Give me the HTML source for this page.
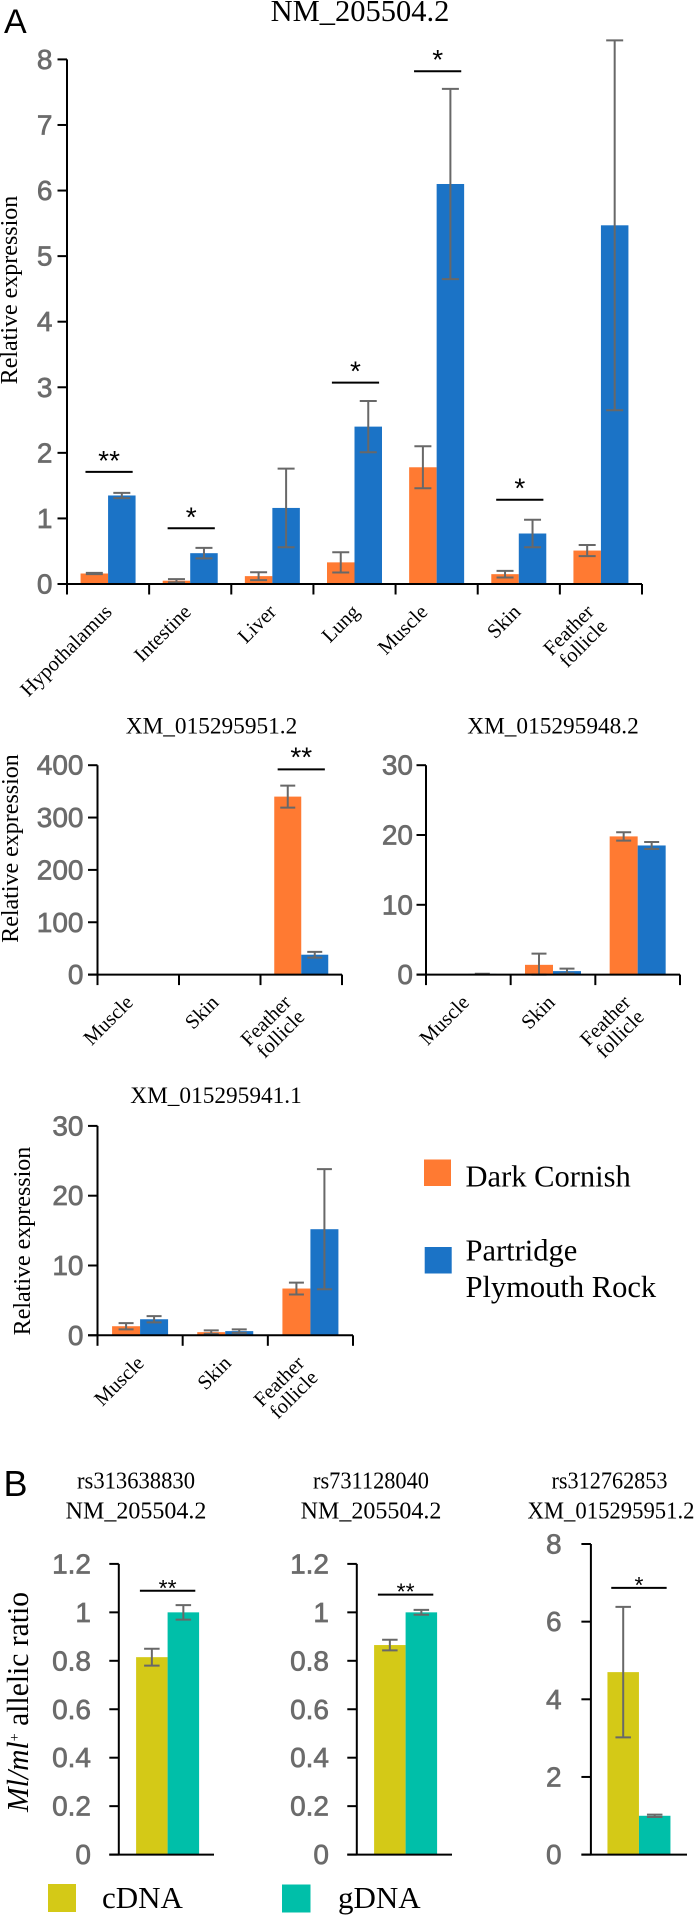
<!DOCTYPE html>
<html lang="en">
<head>
<meta charset="utf-8">
<title>Relative expression and allelic ratio</title>
<style>
html,body{margin:0;padding:0;background:#fff;}
svg{display:block;}
text{font-family:"Liberation Serif",serif;fill:#000;}
.panel{font-family:"Liberation Sans",sans-serif;}
</style>
</head>
<body>
<svg id="fig" xmlns="http://www.w3.org/2000/svg" width="695" height="1919" viewBox="0 0 695 1919">
  <rect x="0" y="0" width="695" height="1919" fill="#fff"/>
  <text class="panel" x="4" y="33" font-size="34">A</text>
  <text class="panel" x="3.5" y="1496" font-size="36">B</text>

  <text x="360" y="21" font-size="30.5" text-anchor="middle">NM_205504.2</text>
  <text x="211.5" y="733.5" font-size="23.3" text-anchor="middle">XM_015295951.2</text>
  <text x="553" y="733.5" font-size="23.3" text-anchor="middle">XM_015295948.2</text>
  <text x="216" y="1103" font-size="23.3" text-anchor="middle">XM_015295941.1</text>

  <text transform="translate(17 290) rotate(-90)" font-size="24" text-anchor="middle">Relative expression</text>
  <text transform="translate(18 848.5) rotate(-90)" font-size="24" text-anchor="middle">Relative expression</text>
  <text transform="translate(30 1241) rotate(-90)" font-size="24" text-anchor="middle">Relative expression</text>

  <g>
    <rect x="424" y="1159.5" width="27" height="26.5" fill="#FF7A32"/>
    <text x="465.5" y="1186.5" font-size="30.5">Dark Cornish</text>
    <rect x="424.7" y="1247" width="27" height="26.5" fill="#1B73C6"/>
    <text x="465.5" y="1260.5" font-size="30.5">Partridge</text>
    <text x="465.5" y="1297" font-size="30.5">Plymouth Rock</text>
  </g>

  <text x="136" y="1488.5" font-size="24" text-anchor="middle" textLength="118" lengthAdjust="spacingAndGlyphs">rs313638830</text>
  <text x="136" y="1518.5" font-size="24" text-anchor="middle">NM_205504.2</text>
  <text x="371" y="1488.5" font-size="24" text-anchor="middle" textLength="116" lengthAdjust="spacingAndGlyphs">rs731128040</text>
  <text x="371" y="1518.5" font-size="24" text-anchor="middle">NM_205504.2</text>
  <text x="609.5" y="1488.5" font-size="24" text-anchor="middle" textLength="116" lengthAdjust="spacingAndGlyphs">rs312762853</text>
  <text x="611" y="1518.5" font-size="24" text-anchor="middle" textLength="167" lengthAdjust="spacingAndGlyphs">XM_015295951.2</text>

  <text transform="translate(28 1702) rotate(-90)" font-size="31" text-anchor="middle" textLength="220" lengthAdjust="spacingAndGlyphs"><tspan font-style="italic">Ml/ml</tspan><tspan font-size="15" dy="-9">+</tspan><tspan dy="9"> allelic ratio</tspan></text>

  <g>
    <rect x="48" y="1884" width="28" height="28" fill="#D4C917"/>
    <text x="102" y="1908" font-size="31">cDNA</text>
    <rect x="282" y="1884.5" width="28.5" height="28" fill="#00BFA9"/>
    <text x="338" y="1908" font-size="31">gDNA</text>
  </g>
</svg>

<script>
// ---- Panel A: NM_205504.2 ----
const tissueCategories = ['Hypothalamus', 'Intestine', 'Liver', 'Lung', 'Muscle', 'Skin', 'Feather|follicle'];
const nmTicks = [0, 1, 2, 3, 4, 5, 6, 7, 8];
const nmDarkCornish = [0.16, 0.05, 0.12, 0.33, 1.78, 0.15, 0.51];
const nmPlymouthRock = [1.35, 0.47, 1.16, 2.40, 6.10, 0.77, 5.47];
const nmDarkCornishErr = [0.01, 0.025, 0.06, 0.155, 0.32, 0.05, 0.085];
const nmPlymouthRockErr = [0.04, 0.08, 0.60, 0.39, 1.45, 0.21, 2.82];
const nmSigCategory = [0, 1, 3, 4, 5];
const nmSigLevel = [1.71, 0.85, 3.07, 7.82, 1.285];
const nmSigStars = ['**', '*', '*', '*', '*'];

// ---- Three-tissue panels ----
const shortCategories = ['Muscle', 'Skin', 'Feather|follicle'];

const xm951Ticks = [0, 100, 200, 300, 400];
const xm951DarkCornish = [0, 0, 340];
const xm951PlymouthRock = [0, 0, 38];
const xm951DarkCornishErr = [0, 0, 21];
const xm951PlymouthRockErr = [0, 0, 5.5];
const xm951SigCategory = [2];
const xm951SigLevel = [392];
const xm951SigStars = ['**'];

const xm948Ticks = [0, 10, 20, 30];
const xm948DarkCornish = [0, 1.4, 19.8];
const xm948PlymouthRock = [0.1, 0.5, 18.5];
const xm948DarkCornishErr = [0, 1.6, 0.6];
const xm948PlymouthRockErr = [0.03, 0.35, 0.5];

const xm941Ticks = [0, 10, 20, 30];
const xm941DarkCornish = [1.3, 0.45, 6.7];
const xm941PlymouthRock = [2.3, 0.6, 15.2];
const xm941DarkCornishErr = [0.45, 0.25, 0.85];
const xm941PlymouthRockErr = [0.45, 0.25, 8.6];

// ---- Panel B: allelic ratios ----
const ratioTicks = ['0', '0.2', '0.4', '0.6', '0.8', '1', '1.2'];
const rs3136cDNA = [0.815];
const rs3136gDNA = [1.0];
const rs3136cDNAErr = [0.035];
const rs3136gDNAErr = [0.03];
const rs3136SigLevel = [1.089];

const rs7311cDNA = [0.865];
const rs7311gDNA = [1.0];
const rs7311cDNAErr = [0.022];
const rs7311gDNAErr = [0.01];
const rs7311SigLevel = [1.073];

const rs3127Ticks = ['0', '2', '4', '6', '8'];
const rs3127cDNA = [4.7];
const rs3127gDNA = [1.0];
const rs3127cDNAErr = [1.68];
const rs3127gDNAErr = [0.03];
const rs3127SigLevel = [6.87];

const svg = document.getElementById('fig');
const NS = 'http://www.w3.org/2000/svg';

function make(tag, parent, attrs) {
  const el = document.createElementNS(NS, tag);
  for (const k in attrs) el.setAttribute(k, attrs[k]);
  parent.appendChild(el);
  return el;
}

function drawChart(o) {
  const g = make('g', svg, {});
  
  

  const n = o.first.length;
  const tickNums = o.ticks.map(Number);
  const yMax = Math.max.apply(null, tickNums);
  const yScale = v => o.y0 - (v / yMax) * (o.y0 - o.yTop);
  const band = (o.x1 - o.x0) / n;
  const xCenter = i => o.x0 + band * (i + 0.5) + (o.centerNudge || 0);

  // bars
  function series(values, errs, side, color, seriesName) {
    values.forEach((v, i) => {
      if (v <= 0) return;
      const bar = make('rect', g, {
        x: side < 0 ? xCenter(i) - o.barW : xCenter(i),
        y: yScale(v),
        width: o.barW,
        height: o.y0 - yScale(v),
        fill: color
      });
      
      
    });
  }
  series(o.first, o.firstErr, -1, o.colors[0], o.seriesNames[0]);
  series(o.second, o.secondErr, 1, o.colors[1], o.seriesNames[1]);

  // error bars
  function errors(values, errs, side, seriesName) {
    values.forEach((v, i) => {
      if (!errs[i]) return;
      const cx = xCenter(i) + side * o.barW / 2;
      const lo = yScale(Math.max(0, v - errs[i]));
      const hi = yScale(v + errs[i]);
      const path = make('path', g, {
        d: 'M' + cx + ' ' + lo + 'V' + hi +
           'M' + (cx - o.cap / 2) + ' ' + lo + 'H' + (cx + o.cap / 2) +
           'M' + (cx - o.cap / 2) + ' ' + hi + 'H' + (cx + o.cap / 2),
        fill: 'none',
        stroke: '#686868',
        'stroke-width': 2
      });
      
      
    });
  }
  errors(o.first, o.firstErr, -1, o.seriesNames[0]);
  errors(o.second, o.secondErr, 1, o.seriesNames[1]);

  // axes
  const yAxis = make('line', g, { x1: o.x0, x2: o.x0, y1: o.yTop, y2: o.y0, stroke: '#000', 'stroke-width': 2 });
  
  
  const xAxis = make('line', g, { x1: o.x0 - o.tickLen, x2: o.x1, y1: o.y0, y2: o.y0, stroke: '#000', 'stroke-width': 2 });
  
  

  o.ticks.forEach(t => {
    const y = yScale(Number(t));
    const tick = make('line', g, { x1: o.x0 - o.tickLen, x2: o.x0, y1: y, y2: y, stroke: '#000', 'stroke-width': 2 });
    
    
    const label = make('text', g, {
      x: o.labelRight,
      y: y + 9.5,
      'text-anchor': 'end',
      'font-size': o.tickFont || 28,
      style: 'font-family:"Liberation Sans",sans-serif;fill:#6b6b6b;stroke:#6b6b6b;stroke-width:0.7'
    });
    
    
    label.textContent = t;
  });

  // category ticks and rotated labels
  if (o.categories) {
    for (let i = 0; i <= n; i++) {
      const x = o.x0 + band * i;
      const tick = make('line', g, { x1: x, x2: x, y1: o.y0, y2: o.y0 + 10.5, stroke: '#000', 'stroke-width': 2 });
      
      
    }
    o.categories.forEach((c, i) => {
      c.split('|').forEach((line, j) => {
        const ex = xCenter(i) + o.labelDx[i] + j * 13.5;
        const ey = o.y0 + 29 + j * 14.5;
        const label = make('text', g, {
          x: ex,
          y: ey,
          'text-anchor': 'end',
          'font-size': 20.5,
          transform: 'rotate(-45 ' + ex + ' ' + ey + ')'
        });
        
        
        label.textContent = line;
      });
    });
  }

  // significance brackets
  if (o.sigLevel) {
    o.sigLevel.forEach((lvl, k) => {
      const i = o.sigCategory[k];
      const y = yScale(lvl);
      const cx = xCenter(i) + (o.sigNudge || 0);
      const rule = make('line', g, { x1: cx - o.sigHalf, x2: cx + o.sigHalf, y1: y, y2: y, stroke: '#000', 'stroke-width': 2 });
      
      
      const star = make('text', g, {
        x: cx,
        y: y + o.starDy,
        'text-anchor': 'middle',
        'font-size': o.starSize,
        style: 'font-family:"Liberation Sans",sans-serif'
      });
      
      
      star.textContent = o.sigStars[k];
    });
  }
}

const breedColors = ['#FF7A32', '#1B73C6'];
const breedNames = ['dark-cornish', 'plymouth-rock'];
const dnaColors = ['#D4C917', '#00BFA9'];
const dnaNames = ['cdna', 'gdna'];

drawChart({
  name: 'chart-nm-205504', x0: 67, x1: 642, yTop: 59.4, y0: 584, barW: 27.5, cap: 17, tickLen: 9.5, labelRight: 52.5,
  ticks: nmTicks, categories: tissueCategories, labelDx: [5, 2, 5, 6, -8, 3, -6],
  first: nmDarkCornish, second: nmPlymouthRock, firstErr: nmDarkCornishErr, secondErr: nmPlymouthRockErr,
  colors: breedColors, seriesNames: breedNames,
  sigCategory: nmSigCategory, sigLevel: nmSigLevel, sigStars: nmSigStars, sigHalf: 23.6, sigNudge: 1, starDy: -2, starSize: 28
});
drawChart({
  name: 'chart-xm-015295951', x0: 97.5, x1: 342, yTop: 765.2, y0: 974.6, barW: 27, cap: 15, tickLen: 9.5, labelRight: 83.5,
  ticks: xm951Ticks, categories: shortCategories, labelDx: [-4, 0, -9],
  first: xm951DarkCornish, second: xm951PlymouthRock, firstErr: xm951DarkCornishErr, secondErr: xm951PlymouthRockErr,
  colors: breedColors, seriesNames: breedNames,
  sigCategory: xm951SigCategory, sigLevel: xm951SigLevel, sigStars: xm951SigStars, sigHalf: 23.6, starDy: -3, starSize: 28
});
drawChart({
  name: 'chart-xm-015295948', x0: 426, x1: 680, yTop: 765.2, y0: 974.6, barW: 28, cap: 15, tickLen: 9.5, labelRight: 413,
  ticks: xm948Ticks, categories: shortCategories, labelDx: [2, 3, -6],
  first: xm948DarkCornish, second: xm948PlymouthRock, firstErr: xm948DarkCornishErr, secondErr: xm948PlymouthRockErr,
  colors: breedColors, seriesNames: breedNames
});
drawChart({
  name: 'chart-xm-015295941', x0: 97.5, x1: 353, yTop: 1125.9, y0: 1335.3, barW: 28, cap: 15, tickLen: 9.5, labelRight: 83.5,
  ticks: xm941Ticks, categories: shortCategories, labelDx: [5, 7, -5],
  first: xm941DarkCornish, second: xm941PlymouthRock, firstErr: xm941DarkCornishErr, secondErr: xm941PlymouthRockErr,
  colors: breedColors, seriesNames: breedNames
});
drawChart({
  name: 'chart-rs313638830', x0: 118.8, x1: 214, yTop: 1563.9, y0: 1854.6, barW: 31.5, cap: 15.5, tickLen: 9.5, labelRight: 91, centerNudge: 1.2,
  ticks: ratioTicks,
  first: rs3136cDNA, second: rs3136gDNA, firstErr: rs3136cDNAErr, secondErr: rs3136gDNAErr,
  colors: dnaColors, seriesNames: dnaNames,
  sigCategory: [0], sigLevel: rs3136SigLevel, sigStars: ['**'], sigHalf: 27.7, starDy: 5, starSize: 23
});
drawChart({
  name: 'chart-rs731128040', x0: 356.8, x1: 452, yTop: 1563.9, y0: 1854.6, barW: 31.5, cap: 15.5, tickLen: 9.5, labelRight: 329, centerNudge: 1.2,
  ticks: ratioTicks,
  first: rs7311cDNA, second: rs7311gDNA, firstErr: rs7311cDNAErr, secondErr: rs7311gDNAErr,
  colors: dnaColors, seriesNames: dnaNames,
  sigCategory: [0], sigLevel: rs7311SigLevel, sigStars: ['**'], sigHalf: 27.7, starDy: 5, starSize: 23
});
drawChart({
  name: 'chart-rs312762853', x0: 590.9, x1: 687, yTop: 1544, y0: 1854.6, barW: 31.5, cap: 15.5, tickLen: 9.5, labelRight: 561.6,
  ticks: rs3127Ticks,
  first: rs3127cDNA, second: rs3127gDNA, firstErr: rs3127cDNAErr, secondErr: rs3127gDNAErr,
  colors: dnaColors, seriesNames: dnaNames,
  sigCategory: [0], sigLevel: rs3127SigLevel, sigStars: ['*'], sigHalf: 27.7, starDy: 5, starSize: 23
});
</script>
</body>
</html>
